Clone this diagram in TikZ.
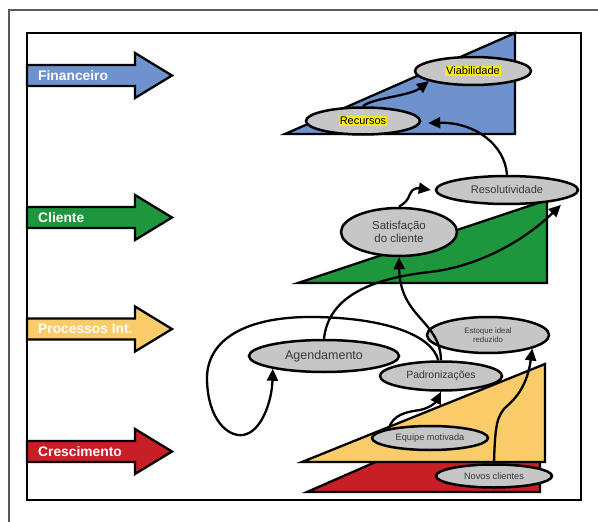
\documentclass[tikz,border=0pt]{standalone}
\usepackage{fontspec}
\setmainfont{Liberation Sans}
\usetikzlibrary{shapes.geometric,arrows.meta}
\definecolor{finblue}{RGB}{110,146,205}
\definecolor{cligreen}{RGB}{30,150,62}
\definecolor{procyel}{RGB}{250,203,105}
\definecolor{cresred}{RGB}{200,30,38}
\definecolor{ellgray}{RGB}{198,198,198}
\definecolor{hl}{RGB}{250,235,20}
\definecolor{txtgray}{RGB}{55,55,55}
\definecolor{framegray}{RGB}{90,90,90}
\setlength{\fboxsep}{0.8pt}
\begin{document}
\begin{tikzpicture}[x=1pt,y=-1pt,
  ell/.style={ellipse, draw=black, line width=2.5pt, fill=ellgray, inner sep=0pt, text=txtgray, align=center},
  tri/.style={draw=black, line width=2.3pt, line join=miter},
  side/.style={draw=black, line width=2.3pt, line join=miter},
  sidelabel/.style={anchor=west, text=white, font=\fontsize{13.8}{15}\selectfont\bfseries, inner sep=0pt},
  conn/.style={line width=2.3pt, -{Triangle[length=12pt,width=11pt]}},
]
\useasboundingbox (0,0) rectangle (598,522);
\fill[white] (0,0) rectangle (598,522);
\draw[framegray, line width=1.5pt] (9,522) -- (9,10) -- (598,10);
\draw[black, line width=2.2pt] (27,33) rectangle (581,500);

% triangles
\draw[tri, fill=cresred] (307,492) -- (540,390) -- (540,492) -- cycle;
\draw[tri, fill=procyel] (302,462) -- (545,364) -- (545,462) -- cycle;
\draw[tri, fill=cligreen] (298,283) -- (547,200) -- (547,283) -- cycle;
\draw[tri, fill=finblue] (285,134) -- (515,33) -- (515,134) -- cycle;

% side arrows
\foreach \yy/\cc/\lab/\nm in {75.5/finblue/Financeiro/fin, 217.5/cligreen/Cliente/cli, 329/procyel/Processos Int./proc, 451.5/cresred/Crescimento/cres}{
  \draw[side, fill=\cc] (27,\yy-10.5) -- (135,\yy-10.5) -- (135,\yy-22.5) -- (172,\yy) -- (135,\yy+22.5) -- (135,\yy+10.5) -- (27,\yy+10.5) -- cycle;
  \node[sidelabel] (\nm) at (38,\yy) {\lab};
}

% ellipses
\node[ell, minimum width=116pt, minimum height=28pt, font=\fontsize{11}{12}\selectfont] (via) at (473,71) {\colorbox{hl}{\color{black}Viabilidade}};
\node[ell, minimum width=114pt, minimum height=27pt, font=\fontsize{11}{12}\selectfont] (rec) at (363,121) {\colorbox{hl}{\color{black}Recursos}};
\node[ell, minimum width=142pt, minimum height=28pt, font=\fontsize{11}{12}\selectfont] (res) at (507,190) {Resolutividade};
\node[ell, minimum width=116pt, minimum height=48pt, font=\fontsize{11.5}{13.5}\selectfont] (sat) at (399,232) {Satisfação\\do cliente};
\node[ell, minimum width=150pt, minimum height=32pt, font=\fontsize{12.5}{14}\selectfont] (ag) at (324,356) {Agendamento};
\node[ell, minimum width=122pt, minimum height=36pt, font=\fontsize{7.8}{9.5}\selectfont] (est) at (488,335) {Estoque ideal\\reduzido};
\node[ell, minimum width=122pt, minimum height=29pt, font=\fontsize{10.5}{12}\selectfont] (pad) at (441,376) {Padronizações};
\node[ell, minimum width=116pt, minimum height=24pt, font=\fontsize{9.2}{11}\selectfont] (eq) at (430,438) {Equipe motivada};
\node[ell, minimum width=116pt, minimum height=23pt, font=\fontsize{9.2}{11}\selectfont] (nov) at (494,476) {Novos clientes};

% connectors
\draw[conn] (rec.north) .. controls (372,98) and (410,96) .. (via.193);
\draw[conn] (res.north) .. controls (505,145) and (475,122) .. ([shift={(7,2)}]rec.east);
\draw[conn] (sat.north) .. controls (405,203) and (408,200) .. (410,194) .. controls (412,188) and (418,188) .. ([xshift=-4pt]res.west);
\draw[conn] (ag.north) .. controls (328,300) and (365,279) .. (430,272) .. controls (480,266) and (525,240) .. ([shift={(3,4)}]res.-12);
\draw[conn] (pad.north) .. controls (440,320) and (400,318) .. (sat.south);
\draw[conn] (pad.100) .. controls (432,335) and (385,318) .. (315,317) .. controls (245,316) and (206,340) .. (207,380) .. controls (208,420) and (228,437) .. (243,435) .. controls (262,432) and (272,400) .. (ag.194);
\draw[conn] (eq.167) .. controls (393,415) and (405,412) .. (420,410) .. controls (430,408) and (436,402) .. (pad.south);
\draw[conn] (nov.north) .. controls (495,425) and (497,415) .. (507,406) .. controls (520,395) and (528,380) .. (est.-17);
\end{tikzpicture}
\end{document}
